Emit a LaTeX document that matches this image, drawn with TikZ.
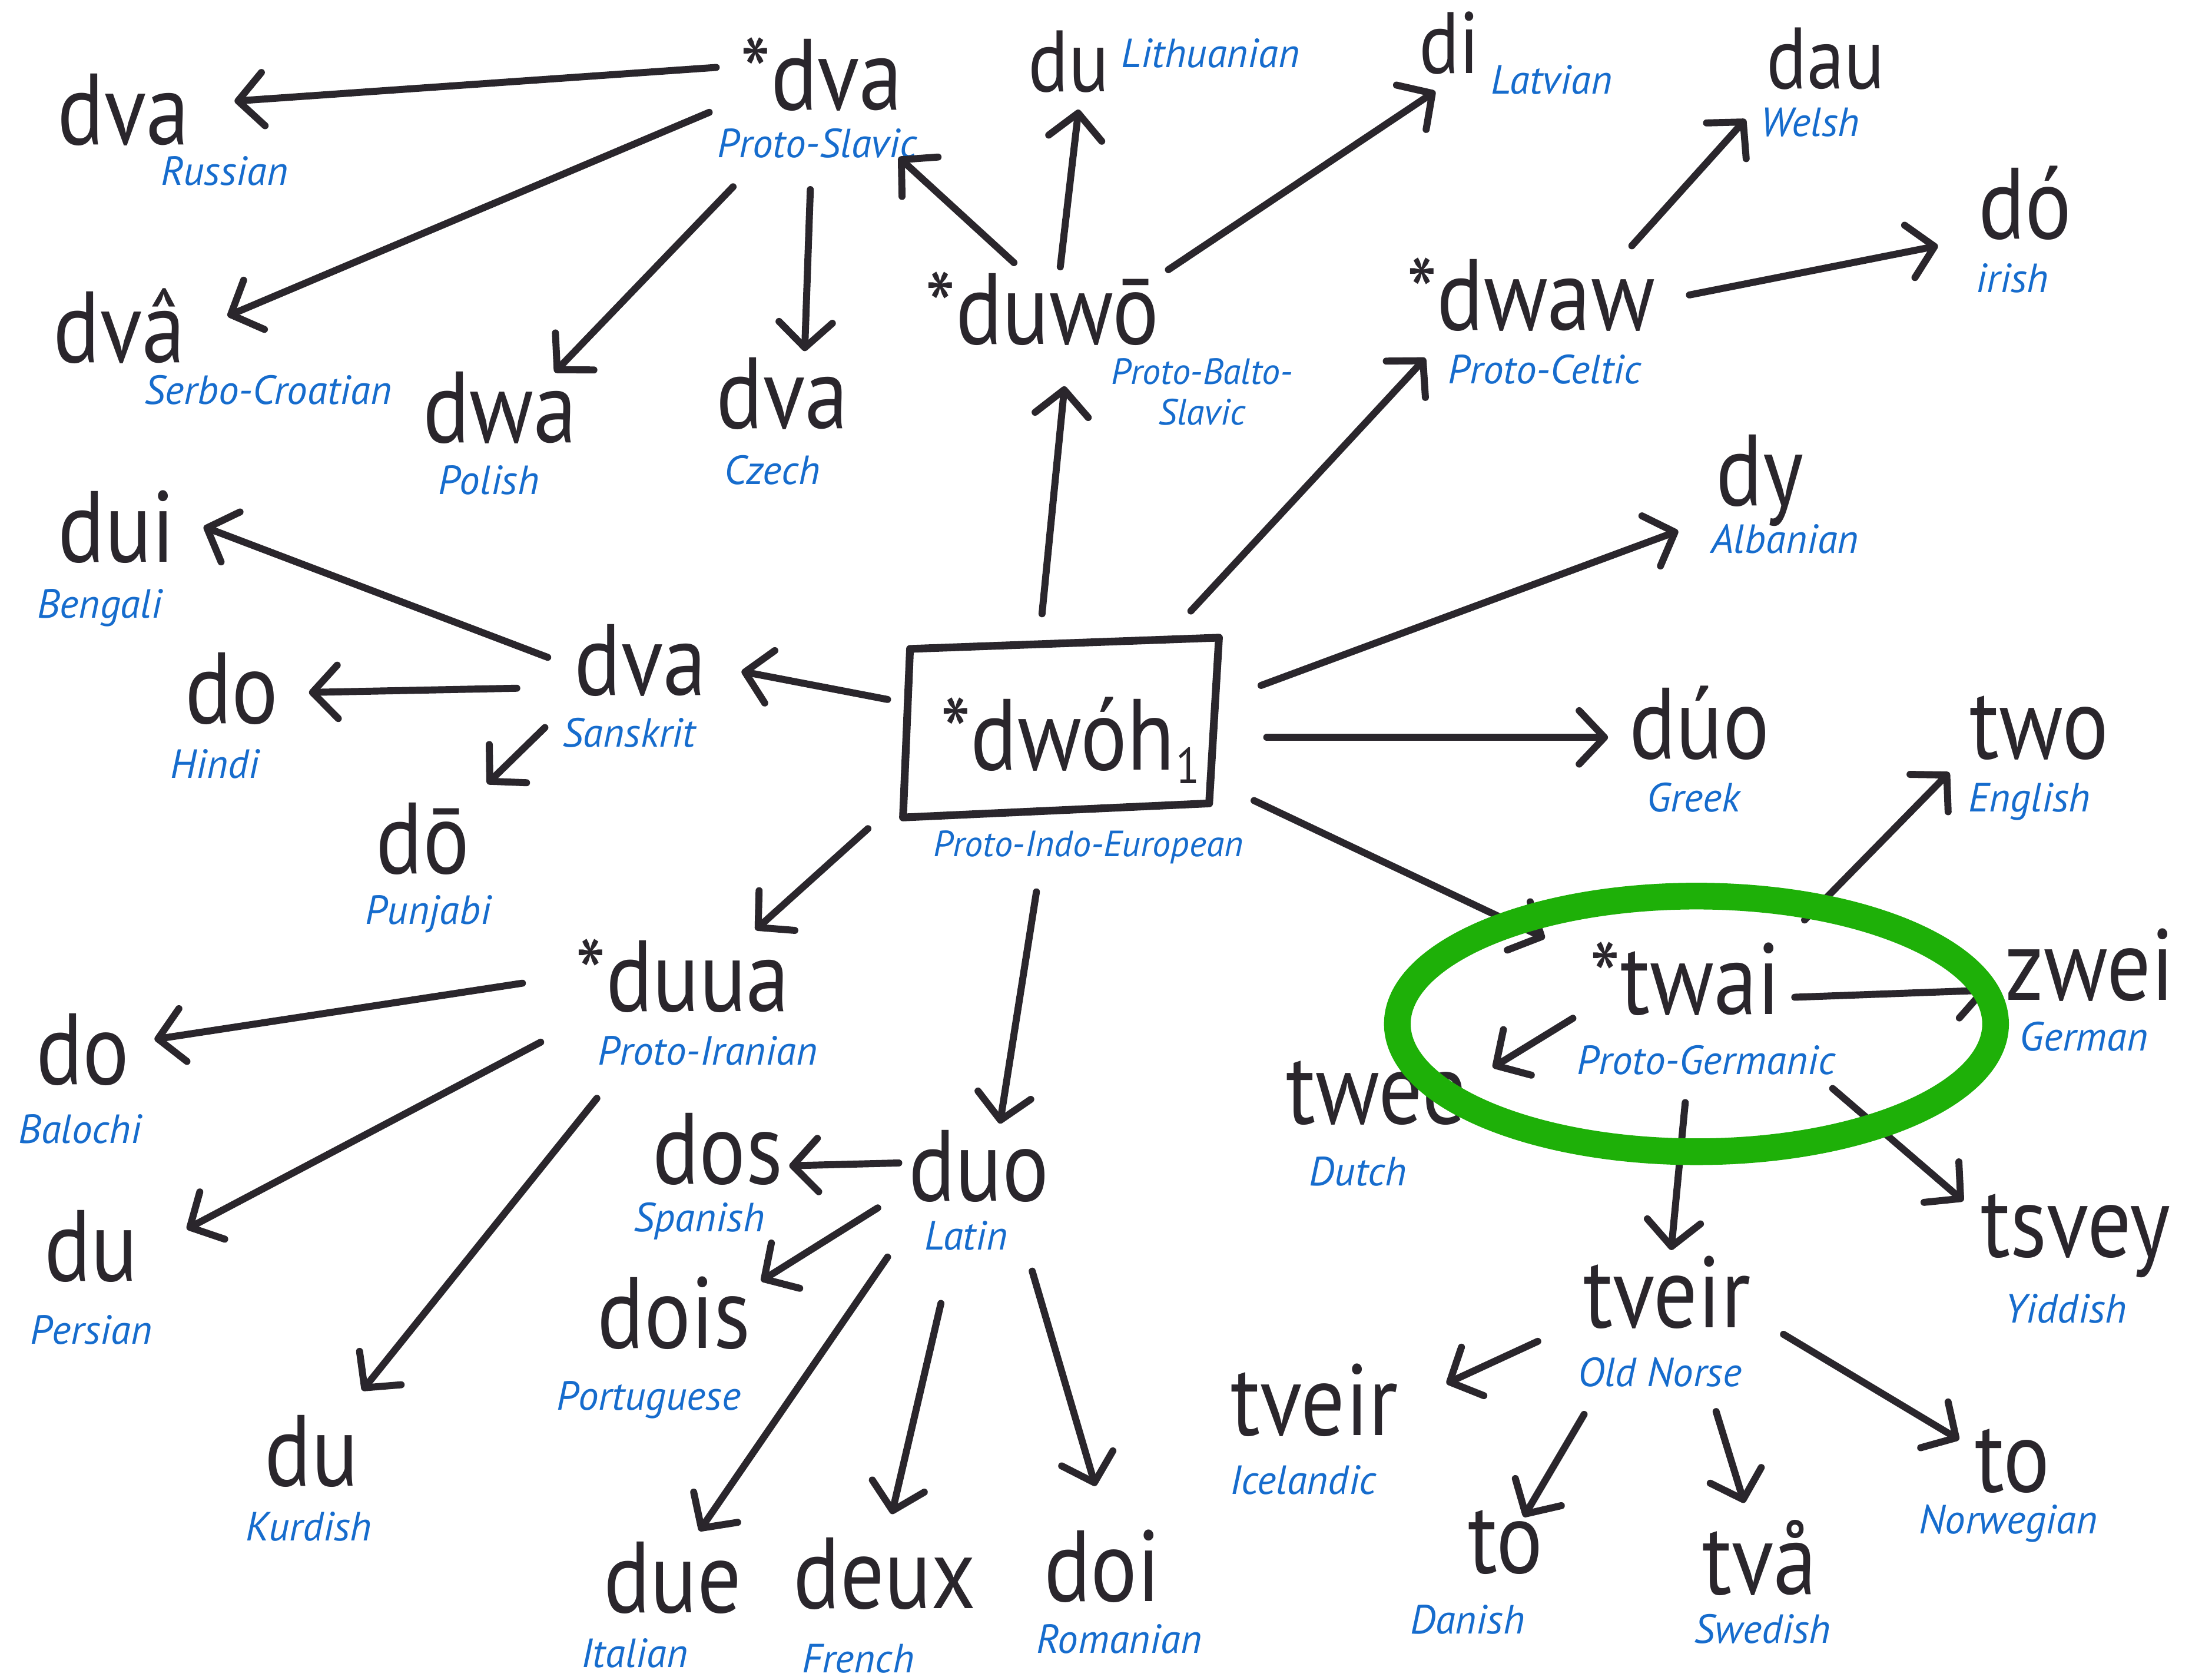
\documentclass[tikz,border=0pt]{standalone}
\usepackage{fontspec}
\setmainfont{PT Sans}
\newfontfamily\wordfont[FakeStretch=0.86]{PT Sans}
\usetikzlibrary{arrows.meta}
\definecolor{ink}{RGB}{42,38,44}
\definecolor{lblue}{RGB}{22,108,205}
\definecolor{gring}{RGB}{30,176,8}
\tikzset{
 word/.style={anchor=base, inner sep=0pt, text=ink, font=\wordfont\fontsize{72}{72}\selectfont},
 smallword/.style={word, font=\wordfont\fontsize{62}{62}\selectfont},
 lang/.style={anchor=base, inner sep=0pt, text=lblue, font=\itshape\fontsize{29}{31}\selectfont},
 smalllang/.style={lang, font=\itshape\fontsize{26}{29}\selectfont},
 arr/.style={draw=ink, line width=5pt, line cap=round, -{Straight Barb[length=18pt,width=38pt,round]}},
 pbox/.style={draw=ink, line width=5.5pt, line join=round},
 ring/.style={draw=gring, line width=19pt},
}
\newcommand{\lnk}[5]{\draw[arr] ([shift={(#2)}]#1.base) #5 ([shift={(#4)}]#3.base);}
\begin{document}
\begin{tikzpicture}[x=1pt,y=-1pt]
\useasboundingbox[fill=white] (0,0) rectangle (1568,1196);
% words
\node[word] (pie) at (762,548) {*dwóh\kern1pt\raisebox{-10pt}{\fontsize{36}{36}\selectfont 1}};
\node[word] (ps) at (585,78) {*dva};
\node[word] (rus) at (88,103) {dva};
\node[word] (sc) at (85,258) {dvâ};
\node[word] (pol) at (356,315) {dwa};
\node[word] (cz) at (557,305) {dva};
\node[word] (pbs) at (742,245) {*duwō};
\node[smallword] (lit) at (761,65) {du};
\node[smallword] (lv) at (1032,52) {di};
\node[word] (pc) at (1090,235) {*dwaw};
\node[smallword] (wel) at (1300,63) {dau};
\node[word] (iri) at (1442,170) {dó};
\node[word] (alb) at (1253,360) {dy};
\node[word] (gre) at (1210,540) {dúo};
\node[word] (pg) at (1200,722) {*twai};
\node[word] (eng) at (1452,540) {two};
\node[word] (ger) at (1488,712) {zwei};
\node[word] (dut) at (980,800) {twee};
\node[word] (yid) at (1478,895) {tsvey};
\node[word] (on) at (1187,945) {tveir};
\node[word] (ice) at (936,1022) {tveir};
\node[word] (dan) at (1072,1120) {to};
\node[word] (swe) at (1253,1135) {två};
\node[word] (nor) at (1433,1062) {to};
\node[word] (skt) at (456,495) {dva};
\node[word] (ben) at (83,400) {dui};
\node[word] (hin) at (165,515) {do};
\node[word] (pun) at (301,622) {dō};
\node[word] (pi) at (486,720) {*duua};
\node[word] (bal) at (59,772) {do};
\node[word] (per) at (65,912) {du};
\node[word] (kur) at (222,1058) {du};
\node[word] (la) at (697,855) {duo};
\node[word] (spa) at (511,843) {dos};
\node[word] (por) at (480,960) {dois};
\node[word] (ita) at (479,1148) {due};
\node[word] (fre) at (630,1145) {deux};
\node[word] (rom) at (785,1140) {doi};
% PIE box
\draw[pbox] ([shift={(-114,-86)}]pie.base) -- ([shift={(106,-94)}]pie.base) -- ([shift={(99,24)}]pie.base) -- ([shift={(-119,34)}]pie.base) -- cycle;
% language labels
\node[smalllang] (pieL) at (775,610) {Proto-Indo-European};
\node[lang] (psL) at (582,112) {Proto-Slavic};
\node[lang] (rusL) at (160,132) {Russian};
\node[lang] (scL) at (191,288) {Serbo-Croatian};
\node[lang] (polL) at (348,352) {Polish};
\node[lang] (czL) at (550,345) {Czech};
\node[smalllang, anchor=north, align=center] (pbsL) at (856,255) {Proto-Balto-\\Slavic};
\node[lang] (litL) at (862,48) {Lithuanian};
\node[lang] (lvL) at (1105,67) {Latvian};
\node[lang] (pcL) at (1100,273) {Proto-Celtic};
\node[lang] (welL) at (1289,97) {Welsh};
\node[lang] (iriL) at (1433,208) {irish};
\node[lang] (albL) at (1271,394) {Albanian};
\node[lang] (greL) at (1206,578) {Greek};
\node[lang] (engL) at (1445,578) {English};
\node[lang] (pgL) at (1215,765) {Proto-Germanic};
\node[lang] (gerL) at (1484,748) {German};
\node[lang] (dutL) at (967,844) {Dutch};
\node[lang] (yidL) at (1471,942) {Yiddish};
\node[lang] (onL) at (1182,987) {Old Norse};
\node[lang] (iceL) at (928,1064) {Icelandic};
\node[lang] (danL) at (1045,1163) {Danish};
\node[lang] (sweL) at (1255,1170) {Swedish};
\node[lang] (norL) at (1430,1092) {Norwegian};
\node[lang] (sktL) at (448,532) {Sanskrit};
\node[lang] (benL) at (71,440) {Bengali};
\node[lang] (hinL) at (153,554) {Hindi};
\node[lang] (punL) at (305,658) {Punjabi};
\node[lang] (piL) at (504,758) {Proto-Iranian};
\node[lang] (balL) at (57,814) {Balochi};
\node[lang] (perL) at (65,957) {Persian};
\node[lang] (kurL) at (220,1097) {Kurdish};
\node[lang] (laL) at (688,890) {Latin};
\node[lang] (spaL) at (498,877) {Spanish};
\node[lang] (porL) at (462,1004) {Portuguese};
\node[lang] (itaL) at (452,1187) {Italian};
\node[lang] (freL) at (611,1191) {French};
\node[lang] (romL) at (797,1177) {Romanian};
% connectors
\lnk{pie}{-20,-111}{pbs}{16,30}{--}
\lnk{pie}{86,-113}{pc}{-75,20}{--}
\lnk{pie}{136,-60}{alb}{-58,18}{--}
\lnk{pie}{140,-23}{gre}{-65,-15}{--}
\lnk{pie}{131,22}{pg}{-100,-54}{--}
\lnk{pie}{-24,87}{la}{15,-55}{--}
\lnk{pie}{-144,42}{pi}{52,-58}{--}
\lnk{pie}{-130,-50}{skt}{72,-17}{--}
\lnk{pbs}{-20,-58}{ps}{55,34}{--}
\lnk{pbs}{13,-55}{lit}{7,13}{--}
\lnk{pbs}{90,-53}{lv}{-10,13}{--}
\lnk{ps}{-75,-30}{rus}{79,-31}{--}
\lnk{ps}{-80,2}{sc}{77,-33}{--}
\lnk{ps}{-63,55}{pol}{39,-50}{--}
\lnk{ps}{-8,57}{cz}{16,-55}{--}
\lnk{pc}{72,-60}{wel}{-57,22}{--}
\lnk{pc}{113,-25}{iri}{-62,5}{--}
\lnk{pg}{85,-67}{eng}{-64,10}{--}
\lnk{pg}{78,-12}{ger}{-73,-7}{--}
\lnk{pg}{-80,3}{dut}{83,-40}{--}
\lnk{pg}{0,63}{on}{3,-55}{--}
\lnk{pg}{105,53}{yid}{-80,-40}{--}
\lnk{on}{-92,10}{ice}{94,-37}{--}
\lnk{on}{-59,62}{dan}{13,-40}{--}
\lnk{on}{35,60}{swe}{-11,-65}{--}
\lnk{on}{83,5}{nor}{-38,-37}{--}
\lnk{skt}{-66,-27}{ben}{62,-25}{--}
\lnk{skt}{-88,-5}{hin}{55,-22}{--}
\lnk{skt}{-68,23}{pun}{46,-64}{--}
\lnk{pi}{-114,-20}{bal}{51,-32}{--}
\lnk{pi}{-101,22}{per}{68,-37}{--}
\lnk{pi}{-61,62}{kur}{36,-68}{--}
\lnk{la}{-57,-27}{spa}{51,-13}{--}
\lnk{la}{-72,5}{por}{62,-48}{--}
\lnk{la}{-65,40}{ita}{19,-58}{--}
\lnk{la}{-27,73}{fre}{5,-67}{--}
\lnk{la}{38,50}{rom}{-5,-82}{--}
% green ring around Proto-Germanic
\draw[ring] ([shift={(8,7)}]pg.base) ellipse [x radius=213, y radius=91];
\end{tikzpicture}
\end{document}
